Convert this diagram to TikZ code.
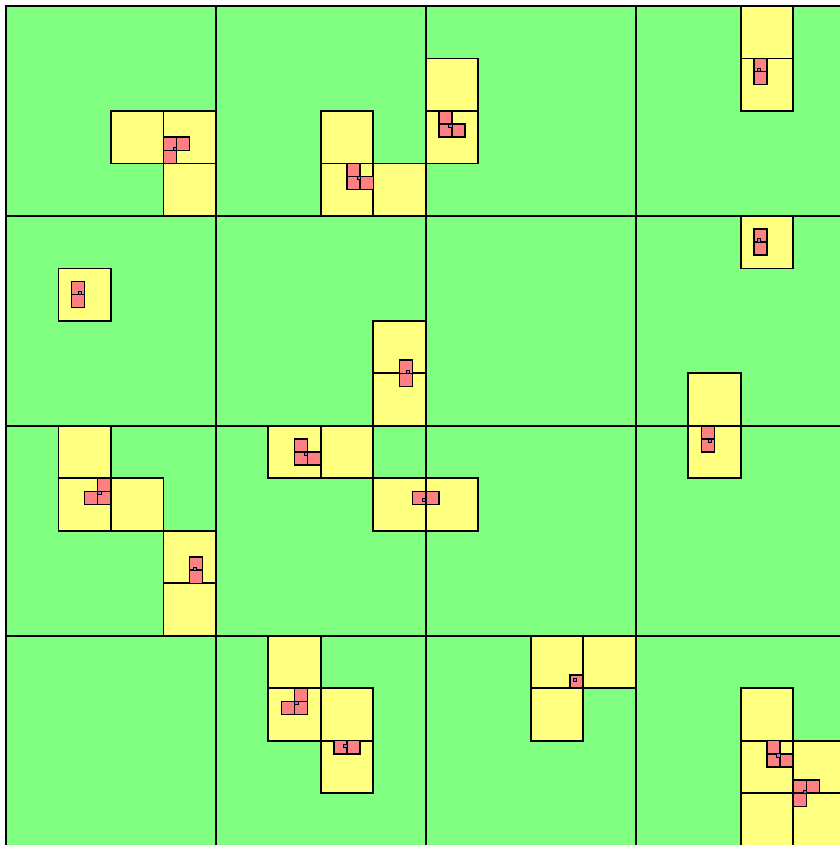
\documentclass[tikz,border=0pt]{standalone}
\usepackage{tikz}
\usetikzlibrary{positioning}
\definecolor{zoldszin}{RGB}{128,255,128}
\definecolor{sargaszin}{RGB}{255,255,128}
\definecolor{pirosszin}{RGB}{255,128,128}
\definecolor{lilaszin}{RGB}{128,128,255}
\tikzset{
  zold/.style={draw=black,fill=zoldszin,line width=0.9pt},
  sarga/.style={draw=black,fill=sargaszin,line width=0.9pt},
  piros/.style={draw=black,fill=pirosszin,line width=0.8pt},
  lila/.style={draw=black,fill=lilaszin,line width=0.35pt},
}

\begin{document}
\begin{tikzpicture}[x=0.25cm,y=-0.25cm]
  \useasboundingbox (-0.45,-0.45) rectangle (63.55,63.95);
  % 1. zold mezok (4x4)
  \foreach \i in {0,...,3}
    \foreach \j in {0,...,3}
      \draw[zold] (16*\i,16*\j) rectangle ++(16,16);
  % 2. sarga negyzetek
  \foreach \x/\y in {8/8,12/8,12/12, 24/8,24/12,28/12, 32/4,32/8, 56/0,56/4,
                     4/20, 28/24,28/28, 56/16, 52/28,
                     4/32,4/36,8/36,12/40,12/44, 20/32,24/32,28/36,32/36, 52/32,
                     20/48,20/52,24/52,24/56, 40/48,44/48,40/52,
                     56/52,56/56,56/60,60/56,60/60}
    \draw[sarga] (\x,\y) rectangle ++(4,4);
  % 3. piros negyzetek
  \foreach \x/\y in {12/10,13/10,12/11, 26/12,26/13,27/13, 33/8,33/9,34/9, 57/4,57/5,
                     57/17,57/18, 5/21,5/22, 30/27,30/28, 53/32,53/33,
                     7/36,6/37,7/37, 14/42,14/43, 22/33,22/34,23/34, 31/37,32/37,
                     22/52,21/53,22/53, 25/56,26/56, 43/51,
                     58/56,58/57,59/57, 60/59,61/59,60/60}
    \draw[piros] (\x,\y) rectangle ++(1,1);
  % 4. lila pottyok
  \foreach \x/\y in {12.75/10.75, 26.75/13, 33.75/9, 57.25/4.75, 57.25/17.75,
                     5.5/21.75, 30.5/27.75, 53.5/33, 7/37, 14.25/42.75,
                     22.75/34, 31.75/37.5, 22/53, 25.75/56.25, 43.25/51.25,
                     58.75/57, 60.75/59.75}
    \draw[lila] (\x,\y) rectangle ++(0.25,0.25);
\end{tikzpicture}
\end{document}
